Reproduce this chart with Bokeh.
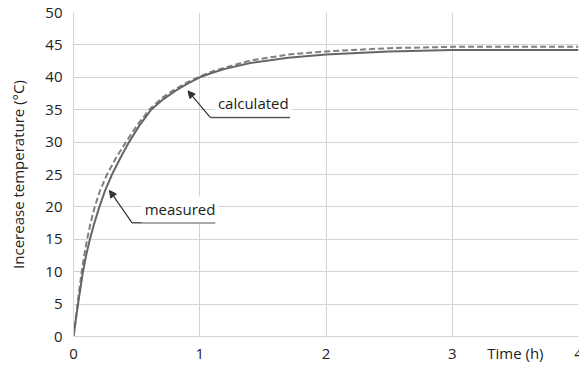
from bokeh.plotting import figure
from bokeh.models import (Label, Arrow, NormalHead, FixedTicker)
from bokeh.embed import file_html
from bokeh.resources import INLINE

# measured (solid)
meas_t = [0, 0.036, 0.075, 0.1, 0.13, 0.165, 0.205, 0.25, 0.305, 0.37, 0.44, 0.52, 0.615, 0.71, 0.806, 0.9, 1.0, 1.1, 1.2, 1.4, 1.7, 2.0, 2.5, 3.0, 3.5, 4.0]
meas_v = [0, 5, 10, 12.5, 15, 17.5, 20, 22.5, 25, 27.5, 30, 32.5, 35, 36.6, 37.9, 39.0, 40.0, 40.7, 41.3, 42.2, 43.0, 43.5, 44.0, 44.2, 44.2, 44.2]
# calculated (dashed)
calc_t = [0, 0.033, 0.065, 0.085, 0.108, 0.135, 0.168, 0.21, 0.265, 0.335, 0.415, 0.5, 0.6, 0.7, 0.8, 0.9, 1.0, 1.1, 1.2, 1.4, 1.7, 2.0, 2.5, 3.0, 3.5, 4.0]
calc_v = [0, 5.2, 10, 12.5, 15, 17.5, 20, 22.5, 25, 27.5, 30, 32.5, 35, 36.8, 38.1, 39.2, 40.1, 40.9, 41.5, 42.6, 43.5, 44.0, 44.5, 44.7, 44.7, 44.7]

x_ticks = [0, 1, 2, 3, 4]
y_ticks = [0, 5, 10, 15, 20, 25, 30, 35, 40, 45, 50]

FONT = "Open Sans"
GRID = "#d4d4d4"

p = figure(width=579, height=365, x_range=(0, 4), y_range=(0, 50),
           output_backend="svg", toolbar_location=None,
           min_border_left=73, min_border_right=1, min_border_top=12, min_border_bottom=28)
p.outline_line_color = None
p.background_fill_color = "white"

p.xgrid.ticker = FixedTicker(ticks=x_ticks)
p.ygrid.ticker = FixedTicker(ticks=y_ticks)
p.xgrid.grid_line_color = GRID
p.ygrid.grid_line_color = GRID
p.xgrid.grid_line_width = 1
p.ygrid.grid_line_width = 1

p.xaxis.ticker = FixedTicker(ticks=x_ticks + [3.5])
p.xaxis.major_label_overrides = {3.5: "Time (h)"}
p.yaxis.ticker = FixedTicker(ticks=y_ticks)
for ax in (p.xaxis[0], p.yaxis[0]):
    ax.major_tick_line_color = None
    ax.minor_tick_line_color = None
    ax.major_tick_in = 0
    ax.major_tick_out = 0
    ax.minor_tick_in = 0
    ax.minor_tick_out = 0
    ax.axis_line_color = GRID
    ax.major_label_text_font = FONT
    ax.major_label_text_font_size = "15px"
    ax.major_label_text_color = "#222222"
p.xaxis.major_label_standoff = 6
p.yaxis.major_label_standoff = 11
p.yaxis.axis_label = "Incerease temperature (°C)"
p.yaxis.axis_label_text_font = FONT
p.yaxis.axis_label_text_font_style = "normal"
p.yaxis.axis_label_text_font_size = "15px"
p.yaxis.axis_label_text_color = "#222222"
p.yaxis.axis_label_standoff = 14

p.line(calc_t, calc_v, line_color="#808080", line_width=2, line_dash="6 3")
p.line(meas_t, meas_v, line_color="#666666", line_width=2)

# annotations
def callout(text, tip, elbow, end_x, text_x, text_y):
    lab = Label(x=text_x, y=text_y, text=text, text_font=FONT, text_font_size="15px",
                text_color="#222222", text_baseline="middle", text_align="left",
                background_fill_color="white", padding=3)
    p.add_layout(lab)
    p.segment(x0=[elbow[0]], y0=[elbow[1]], x1=[end_x], y1=[elbow[1]],
              line_color="#555555", line_width=1.5)
    p.add_layout(Arrow(end=NormalHead(size=7, fill_color="#333333", line_color="#333333"),
                       x_start=elbow[0], y_start=elbow[1], x_end=tip[0], y_end=tip[1],
                       line_color="#333333", line_width=1.2))

callout("calculated", (0.907, 37.9), (1.083, 33.8), 1.715, 1.12, 36.0)
callout("measured", (0.285, 22.55), (0.464, 17.54), 1.123, 0.54, 19.6)

open("out.html", "w").write(file_html(p, INLINE))
